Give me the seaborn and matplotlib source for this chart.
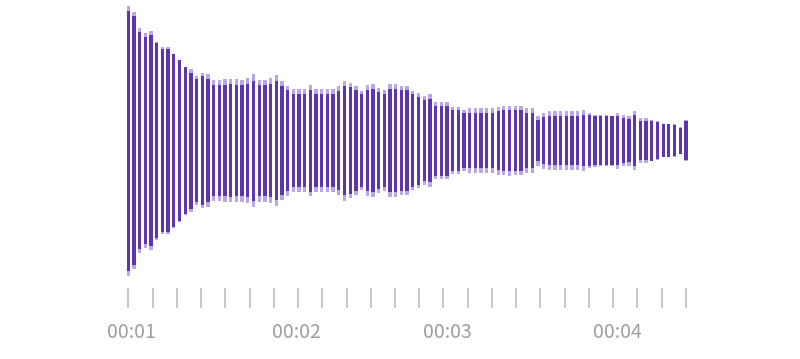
import numpy as np
import pandas as pd
import matplotlib
matplotlib.use("Agg")
import matplotlib.pyplot as plt
import seaborn as sns

# waveform amplitudes per bar (half-height, arbitrary units)
rms = [130, 124.7, 108.3, 103.3, 105.5, 97.5, 91.3, 91.3, 86.3, 80.3,
       73.3, 68, 61.2, 64.2, 61.5, 55.5, 55.5, 55.5, 56.3, 55.5,
       55.5, 56.7, 60, 55.5, 55.5, 56.3, 59.2, 54.2, 50.5, 46.7,
       46.7, 46.7, 51, 46.7, 46.7, 46.7, 46.7, 49.5, 54.2, 53.3,
       50.5, 46.3, 50.8, 51.7, 48.7, 46.3, 51.7, 51.7, 50.5, 50.5,
       46.3, 44, 40.8, 41.7, 35, 35, 35, 30.8, 30.8, 27.2,
       27.8, 27.8, 27.8, 27.8, 27.8, 29.7, 30.2, 30.8, 30.2, 30.5,
       27.8, 27.8, 20.5, 23.3, 24.8, 24.8, 24.8, 24.8, 24.8, 24.8,
       25.8, 25.3, 24.8, 24.7, 24.7, 24.2, 24.5, 22.2, 21.5, 25.3,
       19.2, 19.2, 20, 18.7, 16.3, 16.3, 15.8, 13, 19.8]
peak = [135, 128.8, 112.7, 107.2, 109.7, 99, 93.3, 93.3, 87, 81,
        74, 71.3, 64.7, 67.2, 66.3, 60.7, 60.7, 61.3, 61.8, 61.3,
        61, 62.5, 66.2, 61, 61, 62.2, 65.3, 59.3, 55, 51.7,
        51.7, 51.7, 55.8, 51.7, 51.7, 51.7, 51.7, 54.2, 60, 57.7,
        54.2, 49.7, 55.2, 56.3, 52.8, 50.2, 56.3, 56.3, 54.2, 54.2,
        49.7, 47.5, 44.7, 46.3, 38.3, 38.3, 38.3, 33.3, 33.3, 30.8,
        32.2, 32.2, 32.2, 32.2, 32.2, 34, 34.5, 35, 34.5, 34.5,
        32.2, 32.2, 25, 28, 29.2, 29.2, 29.2, 29.2, 29.2, 29.2,
        30.3, 27.2, 26, 25.5, 25.5, 25, 28, 25.5, 25, 29.2,
        22.5, 22.5, 20.7, 19.3, 16.8, 16.8, 16.3, 13.3, 20.3]

time_labels = ["00:01", "00:02", "00:03", "00:04"]
time_label_bar = [0.6, 29.5, 56.0, 86.0]   # bar position under which each label sits
n_ticks = 24

DARK = "#5e35b1"
LIGHT = "#bba6e6"

n = len(rms)
df = pd.DataFrame({
    "bar": np.arange(n),
    "peak_up": peak, "peak_dn": -np.array(peak),
    "rms_up": rms, "rms_dn": -np.array(rms),
})

sns.set_theme(style="white")
plt.rcParams['font.family'] = ['Noto Sans CJK SC', 'DejaVu Sans']

fig = plt.figure(figsize=(8, 3.59), dpi=100)
ax = fig.add_axes([0, 0, 1, 1])

for col, c in (("peak_up", LIGHT), ("peak_dn", LIGHT), ("rms_up", DARK), ("rms_dn", DARK)):
    sns.barplot(data=df, x="bar", y=col, color=c, saturation=1, width=0.58,
                linewidth=0, edgecolor="none", errorbar=None, ax=ax)

ax.set_xlim(-22.55, 118.05)
ax.set_ylim(-218.5, 140.5)
ax.axis("off")

tick_x = np.linspace(0, n - 1, n_ticks)
ax.vlines(tick_x, -167.8, -147.8, color="#c8c8c8", lw=1.4)
for lab, pos in zip(time_labels, time_label_bar):
    ax.text(pos, -191.5, lab, ha="center", va="center", fontsize=14, color="#9e9e9e")

fig.savefig("out.png", dpi=100)
